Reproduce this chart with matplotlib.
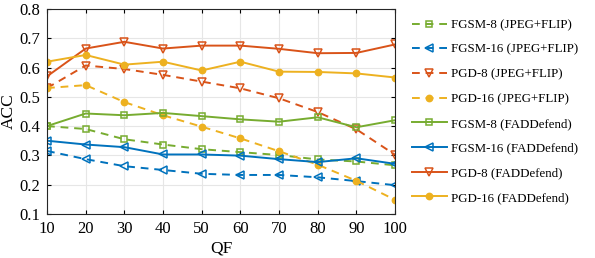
from matplotlib import pyplot as plt

qf = [10, 20, 30, 40, 50, 60, 70, 80, 90, 100]

fgsm8_jpeg = [0.400, 0.390, 0.355, 0.337, 0.321, 0.311, 0.301, 0.286, 0.279, 0.266]
fgsm16_jpeg = [0.315, 0.287, 0.263, 0.250, 0.237, 0.233, 0.233, 0.225, 0.212, 0.198]
pgd8_jpeg = [0.530, 0.607, 0.595, 0.575, 0.552, 0.529, 0.495, 0.448, 0.389, 0.302]
pgd16_jpeg = [0.530, 0.540, 0.482, 0.437, 0.398, 0.358, 0.314, 0.268, 0.213, 0.148]
fgsm8_fad = [0.400, 0.443, 0.437, 0.445, 0.434, 0.423, 0.415, 0.430, 0.396, 0.420]
fgsm16_fad = [0.350, 0.337, 0.328, 0.303, 0.303, 0.299, 0.287, 0.277, 0.290, 0.271]
pgd8_fad = [0.570, 0.665, 0.688, 0.665, 0.675, 0.675, 0.664, 0.649, 0.650, 0.679]
pgd16_fad = [0.620, 0.643, 0.610, 0.620, 0.590, 0.620, 0.586, 0.585, 0.580, 0.566]

GREEN = '#77AC30'
BLUE = '#0072BD'
RED = '#D95319'
YELLOW = '#EDB120'

plt.rcParams['font.family'] = ['Liberation Serif', 'DejaVu Serif']

fig = plt.figure(figsize=(5.95, 2.58), dpi=100)
ax = fig.add_axes([0.079, 0.171, 0.585, 0.794])

series = [
    (fgsm8_jpeg, 'FGSM-8 (JPEG+FLIP)', GREEN, 's', '--', 'none'),
    (fgsm16_jpeg, 'FGSM-16 (JPEG+FLIP)', BLUE, '<', '--', 'none'),
    (pgd8_jpeg, 'PGD-8 (JPEG+FLIP)', RED, 'v', '--', 'none'),
    (pgd16_jpeg, 'PGD-16 (JPEG+FLIP)', YELLOW, 'o', '--', YELLOW),
    (fgsm8_fad, 'FGSM-8 (FADDefend)', GREEN, 's', '-', 'none'),
    (fgsm16_fad, 'FGSM-16 (FADDefend)', BLUE, '<', '-', 'none'),
    (pgd8_fad, 'PGD-8 (FADDefend)', RED, 'v', '-', 'none'),
    (pgd16_fad, 'PGD-16 (FADDefend)', YELLOW, 'o', '-', YELLOW),
]

for vals, label, color, marker, ls, fc in series:
    ms = {'o': 4.5, 's': 5}.get(marker, 6)
    ax.plot(qf, vals, linestyle=ls, color=color, marker=marker, markersize=ms,
            markerfacecolor=fc, markeredgewidth=1.1, linewidth=1.4, label=label,
            dashes=(4, 3) if ls == '--' else (None, None))

ax.set_xlim(10, 100)
ax.set_ylim(0.1, 0.8)
ax.set_xticks(qf)
ax.set_yticks([0.1, 0.2, 0.3, 0.4, 0.5, 0.6, 0.7, 0.8])
ax.set_xlabel('QF', fontsize=12.5, labelpad=3)
ax.set_ylabel('ACC', fontsize=12.5, labelpad=2)
ax.tick_params(direction='in', labelsize=12, top=True, right=True, length=3, width=0.8, pad=5)
ax.grid(True, color='#e6e6e6', linewidth=0.8)
ax.set_axisbelow(True)
for s in ax.spines.values():
    s.set_linewidth(0.8)
    s.set_color('#262626')

ax.legend(loc='center left', bbox_to_anchor=(1.015, 0.5), frameon=False, fontsize=9.3,
          labelspacing=0.98, handlelength=2.7, handletextpad=0.3)

fig.savefig('out.png', dpi=100)
